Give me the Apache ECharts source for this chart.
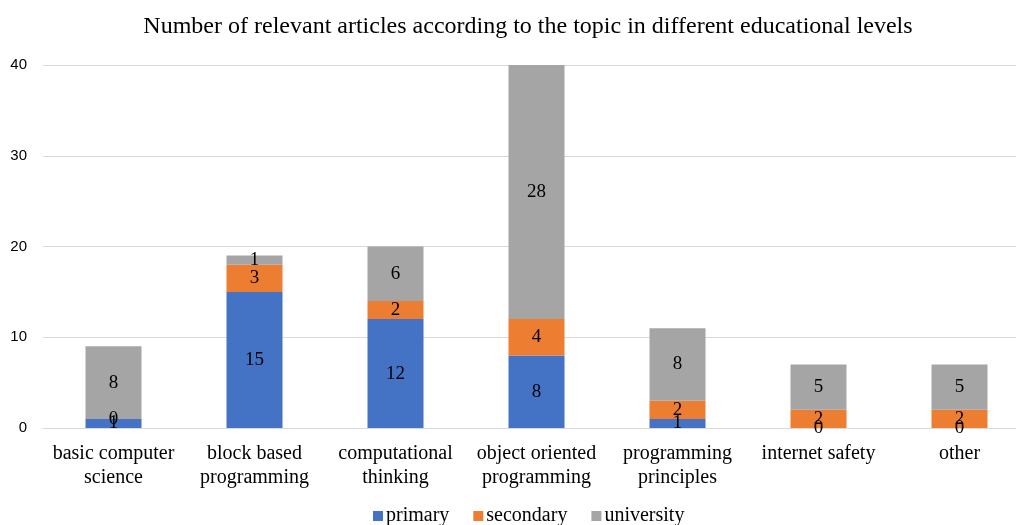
<!DOCTYPE html>
<html>
<head>
<meta charset="utf-8">
<script src="https://cdn.jsdelivr.net/npm/echarts@6/dist/echarts.min.js"></script>
<style>
  html, body { margin: 0; padding: 0; background: #fff; }
  #chart { width: 1016px; height: 525px; }
</style>
</head>
<body>
<div id="chart"></div>
<script>
// Topics and article counts per educational level
const categories = [
  'basic computer science',
  'block based programming',
  'computational thinking',
  'object oriented programming',
  'programming principles',
  'internet safety',
  'other'
];
const primary    = [1, 15, 12, 8, 1, 0, 0];
const secondary  = [0, 3, 2, 4, 2, 2, 2];
const university = [8, 1, 6, 28, 8, 5, 5];
const yTicks = [0, 10, 20, 30, 40];

const SERIF = '"Liberation Serif", "Times New Roman", serif';
const SANS = '"Liberation Sans", Arial, sans-serif';

// Long topic names go on two lines, split at the last space
function wrapName(name) {
  if (name.length <= 15) return name;
  const i = name.lastIndexOf(' ');
  return name.slice(0, i) + '\n' + name.slice(i + 1);
}

function barSeries(name, data, color) {
  return {
    name: name,
    type: 'bar',
    stack: 'total',
    data: data,
    barWidth: 56,
    itemStyle: { color: color },
    label: {
      show: true,
      position: 'inside',
      color: '#000',
      fontFamily: SERIF,
      fontSize: 19
    }
  };
}

const chart = echarts.init(document.getElementById('chart'));
chart.setOption({
  animation: false,
  title: {
    text: 'Number of relevant articles according to the topic in different educational levels',
    left: 523,
    textAlign: 'center',
    top: 10,
    textStyle: { fontFamily: SERIF, fontSize: 24, fontWeight: 'normal', color: '#000' }
  },
  legend: {
    top: 501,
    left: 368,
    itemWidth: 10,
    itemHeight: 10,
    itemGap: 24,
    icon: 'rect',
    textStyle: { fontFamily: SERIF, fontSize: 20, color: '#000', padding: [0, 0, 0, -2] },
    data: ['primary', 'secondary', 'university']
  },
  grid: {
    left: 43, width: 987, top: 65, bottom: 97,
    containLabel: false,
    outerBoundsMode: 'none'
  },
  xAxis: {
    type: 'category',
    data: categories,
    axisLine: { lineStyle: { color: '#d9d9d9', width: 1 } },
    axisTick: { show: false },
    axisLabel: {
      interval: 0,
      color: '#000',
      fontFamily: SERIF,
      fontSize: 20,
      lineHeight: 24,
      margin: 14,
      formatter: wrapName
    }
  },
  yAxis: {
    type: 'value',
    min: yTicks[0],
    max: yTicks[yTicks.length - 1],
    interval: 10,
    axisLine: { show: false },
    axisTick: { show: false },
    splitLine: { lineStyle: { color: '#d9d9d9', width: 1 } },
    axisLabel: { color: '#000', fontFamily: SANS, fontSize: 15, margin: 16 }
  },
  series: [
    barSeries('primary', primary, '#4472C4'),
    barSeries('secondary', secondary, '#ED7D31'),
    barSeries('university', university, '#A5A5A5')
  ]
});
</script>
</body>
</html>
